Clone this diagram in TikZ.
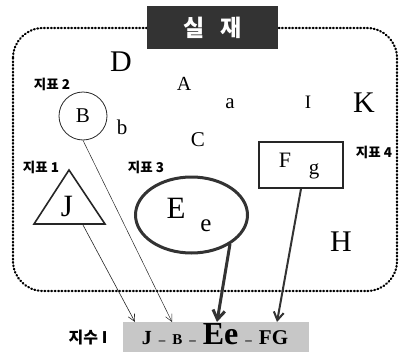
\documentclass[tikz,border=0pt]{standalone}
\usepackage{fontspec}
\setmainfont{Liberation Serif}
\newfontfamily\kr{Noto Sans CJK KR}
\usetikzlibrary{arrows.meta}
\tikzset{
  lbl/.style={font=\kr\bfseries\fontsize{13.5}{13.5}\selectfont, inner sep=0pt},
  ltr/.style={inner sep=0pt},
  thin arrow/.style={draw=black!85, line width=0.6pt, -{Straight Barb[length=7pt,width=7pt]}},
}
\begin{document}
\begin{tikzpicture}[x=1pt,y=-1pt]
\useasboundingbox (0,0) rectangle (399,351);
% dotted region
\draw[line width=2.2pt, dash pattern=on 0.8pt off 2.6pt, line cap=round, black, rounded corners=30pt]
  (13,28) rectangle (397,291);
% title
\node[fill=black!80, minimum width=131pt, minimum height=43pt, inner sep=0pt, text=white,
  font=\kr\bfseries\fontsize{23}{23}\selectfont] (title) at (212.5,27.5) {실\hspace{0.7em}재};
% letters
\node[ltr, font=\fontsize{30}{30}\selectfont] (D) at (121,62) {D};
\node[ltr, font=\fontsize{20}{20}\selectfont] (A) at (184,84) {A};
\node[ltr, font=\fontsize{21}{21}\selectfont, anchor=base] (a) at (230,108) {a};
\node[ltr, font=\fontsize{19}{19}\selectfont] (I) at (308,102) {I};
\node[ltr, font=\fontsize{30}{30}\selectfont] (K) at (364,103) {K};
\node[ltr, font=\fontsize{21}{21}\selectfont, anchor=base] (b) at (122,134) {b};
\node[ltr, font=\fontsize{21}{21}\selectfont] (C) at (198,140) {C};
\node[ltr, font=\fontsize{30}{30}\selectfont] (H) at (341,242) {H};
% labels
\node[lbl] (l2) at (52,84) {지표 2};
\node[lbl] (l1) at (41,167) {지표 1};
\node[lbl] (l3) at (146,167) {지표 3};
\node[lbl] (l4) at (374,152) {지표 4};
% circle B
\node[draw=black!85, circle, line width=0.8pt, minimum size=48pt, inner sep=0pt,
  font=\fontsize{21}{21}\selectfont] (circB) at (83,116) {B};
% triangle J
\coordinate (tA) at (69,170);
\coordinate (tL) at (34,224);
\coordinate (tR) at (105,224);
\draw[line width=1.6pt, black!85, line join=miter] (tA) -- (tL) -- (tR) -- cycle;
\node[ltr, font=\fontsize{31}{31}\selectfont] (J) at (67,206) {J};
% ellipse E
\draw[line width=3pt, black!80] (191.5,215) ellipse [x radius=56, y radius=38];
\node[ltr, font=\fontsize{31}{31}\selectfont] (E) at (176,208) {E};
\node[ltr, font=\fontsize{25}{25}\selectfont, anchor=base] (e) at (206,231) {e};
% rectangle F g
\node[draw=black!85, line width=1.6pt, minimum width=84pt, minimum height=46pt, inner sep=0pt] (rect) at (301,165) {};
\node[ltr, font=\fontsize{22}{22}\selectfont] (F) at (285,160) {F};
\node[ltr, font=\fontsize{21}{21}\selectfont, anchor=base] (g) at (314,174) {g};
% bottom box
\node[fill=black!22, minimum width=186pt, minimum height=30pt, inner sep=0pt, anchor=north west] (box) at (123,322) {};
\node[ltr, anchor=base, font=\bfseries] (formula) at (215,344.5)
  {\fontsize{20}{20}\selectfont J\hspace{7pt}\fontsize{13}{13}\selectfont –\hspace{7pt}\fontsize{15}{15}\selectfont B\hspace{7pt}\fontsize{13}{13}\selectfont –\hspace{7pt}\fontsize{32}{32}\selectfont Ee\hspace{7pt}\fontsize{13}{13}\selectfont –\hspace{7pt}\fontsize{21}{21}\selectfont FG};
\node[lbl, font=\kr\bfseries\fontsize{16}{16}\selectfont] (idx) at (88,338) {지수 I};
% arrows
\coordinate (j1) at (83,225);
\coordinate (j2) at (135,322);
\coordinate (b2) at (172,322);
\coordinate (e1) at (230,244);
\coordinate (e2) at (217,322);
\coordinate (f2) at (277,322);
\draw[thin arrow] (j1) -- (j2);
\draw[thin arrow, line width=0.5pt] (circB.south) -- (b2);
\draw[line width=3pt, black!80, -{Straight Barb[length=9pt,width=12pt]}] (e1) -- (e2);
\draw[line width=2pt, black!80, -{Straight Barb[length=8pt,width=10pt]}] (rect.south) -- (f2);
\end{tikzpicture}
\end{document}
